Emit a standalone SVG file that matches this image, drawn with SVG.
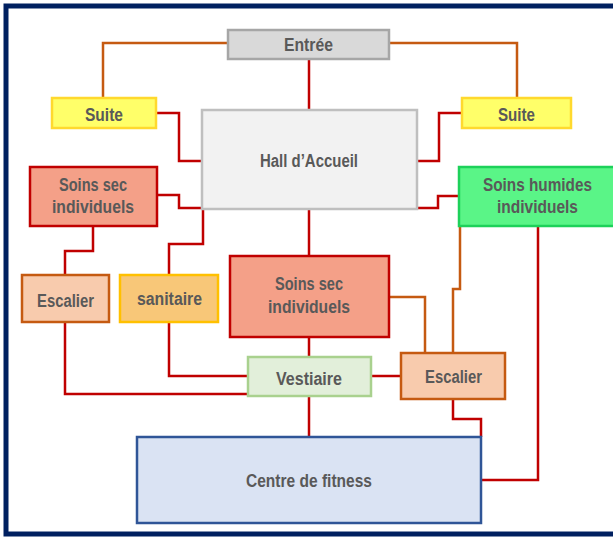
<svg xmlns="http://www.w3.org/2000/svg" width="613" height="538" viewBox="0 0 613 538">
<style>
.t{font-family:"Liberation Sans",Arial,sans-serif;font-weight:bold;font-size:18px;fill:#595959;text-anchor:middle}
.b{stroke-width:2.5}
.r{fill:none;stroke:#c00000;stroke-width:2.5}
.o{fill:none;stroke:#c55a11;stroke-width:2.5}
</style>
<rect x="0" y="0" width="613" height="538" fill="#ffffff"/>
<rect x="6" y="6" width="625" height="528" fill="#ffffff" stroke="#002060" stroke-width="5"/>
<g id="connectors">
<path class="o" d="M228,43 H103 V97"/>
<path class="o" d="M389,43 H517 V97"/>
<path class="r" d="M309,59 V110"/>
<path class="r" d="M156,113 H179 V161 H202"/>
<path class="r" d="M462,113 H439 V161 H417"/>
<path class="r" d="M157,195 H179 V208 H202"/>
<path class="r" d="M417,208 H438 V196 H459"/>
<path class="r" d="M203,210 V244 H169 V275"/>
<path class="r" d="M93,226 V251 H65 V275"/>
<path class="r" d="M309,210 V256"/>
<path class="o" d="M460,226 V289 H453 V353"/>
<path class="r" d="M538,226 V480 H482"/>
<path class="o" d="M389,297 H425 V353"/>
<path class="r" d="M309,337 V357"/>
<path class="r" d="M371,376 H401"/>
<path class="r" d="M309,396 V437"/>
<path class="r" d="M453,399 V419 H481 V437"/>
<path class="r" d="M65,322 V394 H248"/>
<path class="r" d="M169,322 V376 H248"/>
</g>
<g id="entree">
<rect class="b" x="228" y="30" width="161" height="29" fill="#d9d9d9" stroke="#a6a6a6"/>
<text class="t" x="308.5" y="51" textLength="49" lengthAdjust="spacingAndGlyphs">Entrée</text>
</g>
<g id="suite-left">
<rect class="b" x="52" y="98" width="104" height="30" fill="#ffff69" stroke="#ffd92e"/>
<text class="t" x="104" y="121" textLength="38" lengthAdjust="spacingAndGlyphs">Suite</text>
</g>
<g id="suite-right">
<rect class="b" x="462" y="98" width="109" height="30" fill="#ffff69" stroke="#ffd92e"/>
<text class="t" x="516.5" y="121" textLength="37" lengthAdjust="spacingAndGlyphs">Suite</text>
</g>
<g id="hall">
<rect class="b" x="202" y="110" width="215" height="99" fill="#f2f2f2" stroke="#bfbfbf"/>
<text class="t" x="309" y="167" textLength="98" lengthAdjust="spacingAndGlyphs">Hall d’Accueil</text>
</g>
<g id="soins-sec-left">
<rect class="b" x="30" y="167" width="127" height="59" fill="#f4a088" stroke="#c00000"/>
<text class="t" x="93" y="191" textLength="68" lengthAdjust="spacingAndGlyphs">Soins sec</text>
<text class="t" x="93" y="213" textLength="82" lengthAdjust="spacingAndGlyphs">individuels</text>
</g>
<g id="soins-humides">
<rect class="b" x="459" y="167" width="160" height="59" fill="#5af587" stroke="#1dd15a"/>
<text class="t" x="537.5" y="191" textLength="109" lengthAdjust="spacingAndGlyphs">Soins humides</text>
<text class="t" x="537.5" y="213" textLength="81" lengthAdjust="spacingAndGlyphs">individuels</text>
</g>
<g id="escalier-left">
<rect class="b" x="22" y="275" width="87" height="47" fill="#f8cbad" stroke="#c55a11"/>
<text class="t" x="65.5" y="307" textLength="57" lengthAdjust="spacingAndGlyphs">Escalier</text>
</g>
<g id="sanitaire">
<rect class="b" x="120" y="275" width="98" height="47" fill="#f8c778" stroke="#ffc000"/>
<text class="t" x="169.5" y="305" textLength="65" lengthAdjust="spacingAndGlyphs">sanitaire</text>
</g>
<g id="soins-sec-center">
<rect class="b" x="230" y="256" width="159" height="81" fill="#f4a088" stroke="#c00000"/>
<text class="t" x="309" y="290" textLength="68" lengthAdjust="spacingAndGlyphs">Soins sec</text>
<text class="t" x="309" y="313" textLength="82" lengthAdjust="spacingAndGlyphs">individuels</text>
</g>
<g id="vestiaire">
<rect class="b" x="248" y="357" width="123" height="39" fill="#e2efda" stroke="#a9d18e"/>
<text class="t" x="309" y="385" textLength="66" lengthAdjust="spacingAndGlyphs">Vestiaire</text>
</g>
<g id="escalier-right">
<rect class="b" x="401" y="353" width="104" height="46" fill="#f8cbad" stroke="#c55a11"/>
<text class="t" x="453.5" y="383" textLength="57" lengthAdjust="spacingAndGlyphs">Escalier</text>
</g>
<g id="centre-fitness">
<rect class="b" x="137" y="437" width="344" height="86" fill="#dae3f3" stroke="#2f5597"/>
<text class="t" x="309" y="487" textLength="126" lengthAdjust="spacingAndGlyphs">Centre de fitness</text>
</g>
</svg>
